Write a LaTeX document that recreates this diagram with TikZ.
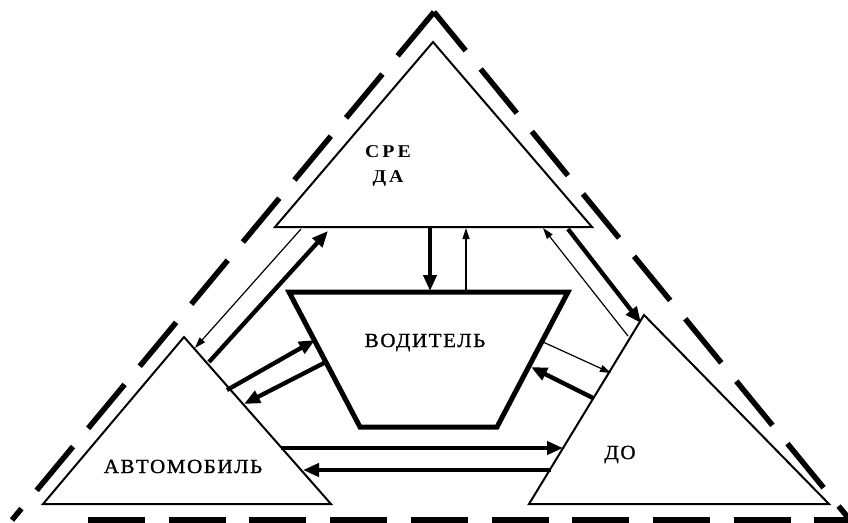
\documentclass[tikz,border=0pt]{standalone}
\usepackage{fontspec}
\setmainfont{Liberation Serif}
\newfontfamily\lblfont{Liberation Serif}[FakeStretch=1.05,LetterSpace=8,FakeBold=1.2]
\newfontfamily\lblfontwide{Liberation Serif}[FakeStretch=1.1,LetterSpace=17]
\usetikzlibrary{arrows.meta}
\begin{document}
\begin{tikzpicture}[x=1pt,y=-1pt,
  tri/.style={line width=2pt, line join=miter},
  trap/.style={line width=5pt, line join=miter},
  outer/.style={line width=5.5pt, dash pattern=on 57pt off 23.7pt},
  thickarr/.style={line width=4.3pt, -{Triangle[length=16pt,width=13pt]}},
  thinarr/.style={line width=1.2pt, -{Triangle[length=11pt,width=7pt]}},
  lbl/.style={font=\lblfont\fontsize{20}{22}\selectfont, inner sep=0pt, anchor=base},
  lblw/.style={font=\lblfontwide\bfseries\fontsize{18}{20}\selectfont, inner sep=0pt, anchor=base}
]
\useasboundingbox (0,0) rectangle (848,522);
% outer dashed triangle
\coordinate (OA) at (434,12);
\coordinate (OL) at (12,520);
\coordinate (OR) at (850,520);
\draw[outer] (OA) -- (OL);
\draw[outer, dash phase=7pt] (OA) -- (OR);
\coordinate (OB) at (88,520);
\draw[outer] (OB) -- (OR);
% triangles
\coordinate (SA) at (433,42); \coordinate (SL) at (275,227); \coordinate (SR) at (592,227);
\draw[tri] (SA) -- (SL) -- (SR) -- cycle;
\coordinate (AA) at (184,337); \coordinate (AL) at (43,504); \coordinate (AR) at (331,504);
\draw[tri] (AA) -- (AL) -- (AR) -- cycle;
\coordinate (DA) at (644,315); \coordinate (DL) at (529,504); \coordinate (DR) at (829,504);
\draw[tri] (DA) -- (DL) -- (DR) -- cycle;
% trapezoid
\coordinate (T1) at (289,292); \coordinate (T2) at (568,292);
\coordinate (T3) at (497,427); \coordinate (T4) at (360,427);
\draw[trap] (T1) -- (T2) -- (T3) -- (T4) -- cycle;
% labels
\node[lblw] (sre) at (388,157) {СРЕ};
\node[lblw] (da) at (388,182) {ДА};
\node[lbl] (vod) at (425,347) {ВОДИТЕЛЬ};
\node[lbl] (avt) at (183,473) {АВТОМОБИЛЬ};
\node[lbl] (do) at (620,459) {ДО};
% arrow end points
\coordinate (p1a) at (430,228); \coordinate (p1b) at (430,291);
\coordinate (p2a) at (466,291); \coordinate (p2b) at (466,228);
\coordinate (p3a) at (301,229); \coordinate (p3b) at (195,348);
\coordinate (p4a) at (209,362); \coordinate (p4b) at (328,231);
\coordinate (p5a) at (227,390); \coordinate (p5b) at (315,340);
\coordinate (p6a) at (324,363); \coordinate (p6b) at (244,404);
\coordinate (p7a) at (628,336); \coordinate (p7b) at (543,228);
\coordinate (p8a) at (568,229); \coordinate (p8b) at (641,323);
\coordinate (p9a) at (543,342); \coordinate (p9b) at (611,373);
\coordinate (p10a) at (593,398); \coordinate (p10b) at (531,367);
\coordinate (p11a) at (281,448); \coordinate (p11b) at (563,448);
\coordinate (p12a) at (551,470); \coordinate (p12b) at (303,470);
\draw[thickarr] (p1a) -- (p1b);
\draw[thinarr] (p2a) -- (p2b);
\draw[thinarr] (p3a) -- (p3b);
\draw[thickarr] (p4a) -- (p4b);
\draw[thickarr] (p5a) -- (p5b);
\draw[thickarr] (p6a) -- (p6b);
\draw[thinarr] (p7a) -- (p7b);
\draw[thickarr] (p8a) -- (p8b);
\draw[thinarr] (p9a) -- (p9b);
\draw[thickarr] (p10a) -- (p10b);
\draw[thickarr] (p11a) -- (p11b);
\draw[thickarr] (p12a) -- (p12b);
\end{tikzpicture}
\end{document}
